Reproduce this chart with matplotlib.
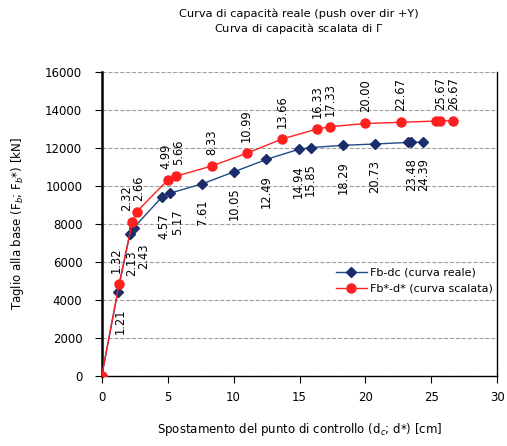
import matplotlib
matplotlib.use('Agg')
import matplotlib.pyplot as plt
import numpy as np

font = {'family': 'DejaVu Sans', 'size': 8}
matplotlib.rc('font', **font)

# curva reale Fb-dc
d_reale = [0, 1.21, 2.13, 2.43, 4.57, 5.17, 7.61, 10.05, 12.49, 14.94, 15.85,
           18.29, 20.73, 23.20, 23.48, 24.39]
fb_reale = [0, 4400, 7450, 7800, 9420, 9620, 10110, 10750, 11400, 11930, 12020,
            12140, 12210, 12290, 12300, 12300]
lab_reale = [False, True, True, True, True, True, True, True, True, True, True,
             True, True, False, True, True]

# curva scalata Fb*-d*
d_scal = [0, 1.32, 2.32, 2.66, 4.99, 5.66, 8.33, 10.99, 13.66, 16.33, 17.33,
          20.00, 22.67, 25.36, 25.67, 26.67]
fb_scal = [0, 4850, 8100, 8650, 10300, 10520, 11050, 11720, 12470, 13000, 13120,
           13290, 13350, 13420, 13430, 13430]
lab_scal = [False, True, True, True, True, True, True, True, True, True, True,
            True, True, False, True, True]

# spostamenti orizzontali (pixel) delle etichette affollate vicino all'origine
dx_reale = {1: 3, 2: 2, 3: 10, 4: 2, 5: 8}
dx_scal = {1: -3, 2: -6, 3: 2, 4: -2, 5: 2}

blu_linea = '#1f4c86'
blu_marker = '#1b2d6b'
rosso = '#ff1f1f'

fig = plt.figure(figsize=(5.07, 4.46), dpi=100)
ax = fig.add_axes([0.2006, 0.157, 0.7804, 0.6816])

ax.plot(d_reale, fb_reale, color=blu_linea, lw=1.0, marker='D', ms=5.5,
        mfc=blu_marker, mec=blu_marker, label='Fb-dc (curva reale)', zorder=3)
ax.plot(d_scal, fb_scal, color=rosso, lw=1.0, marker='o', ms=6.5,
        mfc=rosso, mec=rosso, label='Fb*-d* (curva scalata)', zorder=4)

for i, (x, y, show) in enumerate(zip(d_reale, fb_reale, lab_reale)):
    if show:
        ax.annotate('%.2f' % x, (x, y), xytext=(dx_reale.get(i, 0), -16),
                    textcoords='offset pixels', rotation=90,
                    ha='center', va='top', fontsize=8.3)
for i, (x, y, show) in enumerate(zip(d_scal, fb_scal, lab_scal)):
    if show:
        ax.annotate('%.2f' % x, (x, y), xytext=(dx_scal.get(i, 0), 11),
                    textcoords='offset pixels', rotation=90,
                    ha='center', va='bottom', fontsize=8.3)

ax.set_xlim(0, 30)
ax.set_ylim(0, 16000)
ax.set_xticks(np.arange(0, 31, 5))
ax.set_yticks(np.arange(0, 16001, 2000))
ax.tick_params(axis='x', direction='out', length=5, width=0.8, labelsize=8.5, pad=6)
ax.tick_params(axis='y', direction='out', length=5, width=0.8, labelsize=8.5, pad=9)
ax.grid(axis='y', color='#a0a0a0', linestyle='--', linewidth=0.8)
ax.set_axisbelow(True)

ax.spines['top'].set_visible(False)
ax.spines['left'].set_linewidth(1.8)
ax.spines['bottom'].set_linewidth(1.0)
ax.spines['right'].set_linewidth(1.0)

ax.set_xlabel('Spostamento del punto di controllo (d$_c$; d*) [cm]', fontsize=8.5, labelpad=12)
ax.set_ylabel('Taglio alla base (F$_b$; F$_b$*) [kN]', fontsize=8.5, labelpad=14)

fig.text(0.59, 0.97, 'Curva di capacità reale (push over dir +Y)', ha='center', va='center', fontsize=8.2)
fig.text(0.59, 0.937, r'Curva di capacità scalata di $\Gamma$', ha='center', va='center', fontsize=8.2)

ax.legend(loc='upper left', bbox_to_anchor=(0.58, 0.37), frameon=False,
          fontsize=8, handlelength=2.8, handletextpad=0.3, labelspacing=0.5,
          borderaxespad=0)

plt.savefig('out.png', dpi=100)
